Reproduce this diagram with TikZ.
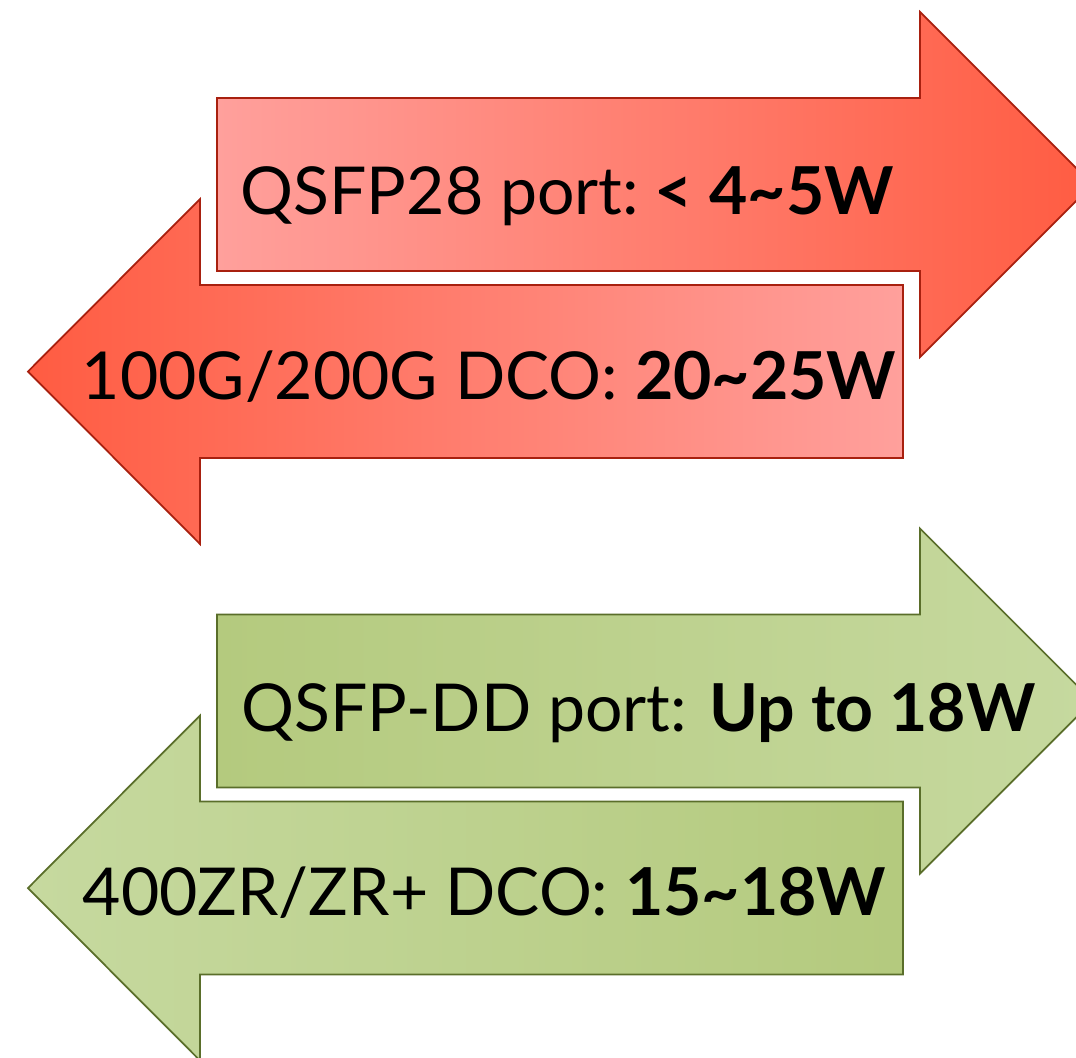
\documentclass[tikz,border=0pt]{standalone}
\usepackage{fontspec}
\setmainfont{Lato}
\usetikzlibrary{positioning}
\definecolor{redlight}{HTML}{FFA09C}
\definecolor{reddark}{HTML}{FF5C42}
\definecolor{redline}{HTML}{A8200F}
\definecolor{greenlight}{HTML}{C6D99F}
\definecolor{greendark}{HTML}{B4CA7E}
\definecolor{greenline}{HTML}{5A6E2A}
\tikzstyle{redright} = [draw=redline, line width=0.5pt, left color=redlight, right color=reddark]
\tikzstyle{redleft} = [draw=redline, line width=0.5pt, left color=reddark, right color=redlight]
\tikzstyle{greenright} = [draw=greenline, line width=0.5pt, left color=greendark, right color=greenlight]
\tikzstyle{greenleft} = [draw=greenline, line width=0.5pt, left color=greenlight, right color=greendark]
\tikzstyle{label} = [inner sep=0pt, anchor=base west, font=\fontsize{18.8}{23}\selectfont]

\begin{document}
\begin{tikzpicture}[x=0.01cm, y=-0.01cm]
    \useasboundingbox (0,0) rectangle (1076,1057);
    % red pair
    \path [redright] (217,98) -- (920,98) -- (920,12) -- (1092.5,184.5) -- (920,357) -- (920,271) -- (217,271) -- cycle;
    \path [redleft] (903,285) -- (200,285) -- (200,199) -- (28,371.5) -- (200,544) -- (200,458) -- (903,458) -- cycle;
    \node [label] (qsfp) at (240,214) {QSFP28 port:\hspace{-0.1em} \textbf{< 4\textasciitilde5W}};
    \node [label] (dco) at (81,399) {100G/200G DCO: \textbf{20\textasciitilde25W}};
    % green pair
    \path [greenright] (217,614.5) -- (920,614.5) -- (920,528.5) -- (1092.5,701) -- (920,873.5) -- (920,787.5) -- (217,787.5) -- cycle;
    \path [greenleft] (903,801.5) -- (200,801.5) -- (200,715.5) -- (28,888) -- (200,1060.5) -- (200,974.5) -- (903,974.5) -- cycle;
    \node [label] (qsfpdd) at (241,731) {QSFP-DD port: \textbf{Up to 18W}};
    \node [label] (zr) at (82,915) {400ZR/ZR+ DCO: \textbf{15\textasciitilde18W}};
\end{tikzpicture}
\end{document}
